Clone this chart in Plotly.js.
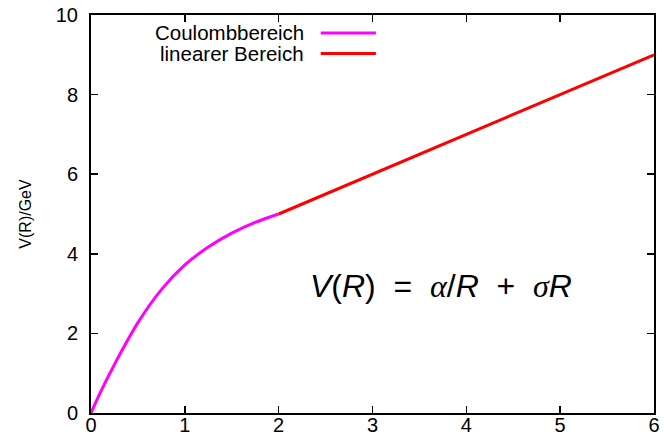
<!DOCTYPE html>
<html>
<head>
<meta charset="utf-8">
<script src="https://cdn.plot.ly/plotly-3.0.1.min.js"></script>
<style>
html,body{margin:0;padding:0;background:#fff;}
#chart{width:664px;height:443px;}
</style>
</head>
<body>
<div id="chart"></div>
<script>
// Coulomb region
const coulombR = [0, 0.1, 0.25, 0.5, 0.75, 1.0, 1.25, 1.5, 1.75, 2.0];
const coulombV = [0, 0.52, 1.22, 2.27, 3.10, 3.72, 4.17, 4.52, 4.79, 5.0];
// linear region
const linearR = [2, 6];
const linearV = [5, 9];

const seriesNames = ["Coulombbereich", "linearer Bereich"];
const seriesColors = ["#ff00ff", "#ff0000"];

const xTicks = [0, 1, 2, 3, 4, 5, 6];
const yTicks = [0, 2, 4, 6, 8, 10];

const SERIF = "font-family:Liberation Serif";
const formula = "<i>V</i>(<i>R</i>) &nbsp;=&nbsp; <span style=\"" + SERIF + "\"><i>α</i></span>/<i>R</i> &nbsp;+&nbsp; <span style=\"" + SERIF + "\"><i>σ</i></span><i>R</i>";
const yTitle = "V(R)/GeV";

const FONT = "Liberation Sans, Arial, sans-serif";

const traces = [
  {x: coulombR, y: coulombV, mode: "lines", name: seriesNames[0],
   line: {color: seriesColors[0], width: 3, shape: "spline", smoothing: 1}},
  {x: linearR, y: linearV, mode: "lines", name: seriesNames[1],
   line: {color: seriesColors[1], width: 3}}
];

const annotations = [
  {xref: "x", yref: "y", x: 3.73, y: 3.2, text: formula, showarrow: false,
   font: {family: FONT, size: 32, color: "#000"}, xanchor: "center", yanchor: "middle"}
];
const shapes = [];
const legendY = [0.955, 0.903];
seriesNames.forEach((n, i) => {
  annotations.push({xref: "paper", yref: "paper", x: 0.381, y: legendY[i], text: n,
    showarrow: false, xanchor: "right", yanchor: "middle",
    font: {family: FONT, size: 20.5, color: "#000"}});
  shapes.push({type: "line", xref: "paper", yref: "paper", x0: 0.408, x1: 0.506,
    y0: legendY[i], y1: legendY[i], line: {color: seriesColors[i], width: 3}});
});

const axisCommon = {
  showgrid: false, zeroline: false, showline: true, linecolor: "#000", linewidth: 2,
  mirror: "allticks", ticks: "inside", ticklen: 7, tickwidth: 1.5, tickcolor: "#000",
  tickfont: {family: FONT, size: 20, color: "#000"}, fixedrange: true
};

const layout = {
  width: 664, height: 443,
  margin: {l: 91, r: 10, t: 15, b: 30, pad: 0},
  paper_bgcolor: "#fff", plot_bgcolor: "#fff",
  showlegend: false,
  xaxis: Object.assign({}, axisCommon, {range: [0, 6], tickvals: xTicks, ticklabelstandoff: -7}),
  yaxis: Object.assign({}, axisCommon, {range: [0, 10], tickvals: yTicks, ticklabelstandoff: 7,
    title: {text: yTitle, font: {family: FONT, size: 16, color: "#000"}, standoff: 20}}),
  annotations: annotations,
  shapes: shapes
};

Plotly.newPlot("chart", traces, layout, {displayModeBar: false, staticPlot: true});
</script>
</body>
</html>
